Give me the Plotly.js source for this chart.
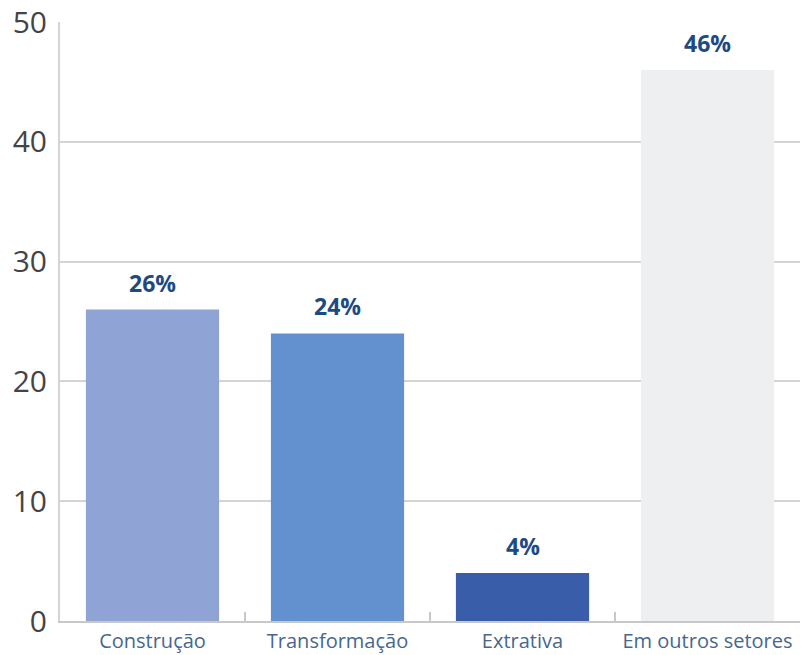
<!DOCTYPE html>
<html><head><meta charset="utf-8">
<script src="https://cdn.plot.ly/plotly-3.0.1.min.js"></script>
<style>html,body{margin:0;padding:0;background:#fff}</style>
</head><body>
<div id="chart" style="width:801px;height:655px"></div>
<script>
const categories = ["Construção", "Transformação", "Extrativa", "Em outros setores"];
const values = [26, 24, 4, 46];
const labels = ["26%", "24%", "4%", "46%"];
const colors = ["#8fa3d5", "#6391cf", "#3a5daa", "#eeeff1"];
const yTicks = [0, 10, 20, 30, 40, 50];

const trace = {
  type: "bar",
  x: categories,
  y: values,
  marker: {color: colors},
  hoverinfo: "skip"
};

const annotations = categories.map((c, i) => ({
  x: c, y: values[i], xref: "x", yref: "y",
  text: "<b>" + labels[i] + "</b>",
  showarrow: false, yanchor: "bottom", yshift: 9,
  font: {family: "Open Sans, Lato, sans-serif", size: 23, color: "#1e4a84"}
}));

const layout = {
  width: 801, height: 655,
  margin: {l: 60, r: 1, t: 22, b: 34},
  paper_bgcolor: "#fff", plot_bgcolor: "#fff",
  bargap: 0.28,
  showlegend: false,
  xaxis: {
    range: [-0.5, 3.5],
    tickson: "boundaries",
    ticks: "inside", ticklen: 9, tickwidth: 1.5, tickcolor: "#c8c8c8",
    showline: true, linecolor: "#c8c8c8", linewidth: 2,
    tickfont: {family: "Open Sans, sans-serif", size: 20, color: "#46678f"},
    ticklabelstandoff: 1,
    fixedrange: true
  },
  yaxis: {
    range: [0, 50],
    tickvals: yTicks,
    showgrid: true, gridcolor: "#d4d4d4", gridwidth: 2,
    zeroline: false,
    showline: true, linecolor: "#d4d4d4", linewidth: 2,
    tickfont: {family: "Open Sans, sans-serif", size: 30, color: "#444444"},
    ticklabelstandoff: 5,
    fixedrange: true
  },
  annotations: annotations
};

Plotly.newPlot("chart", [trace], layout, {displayModeBar: false, staticPlot: true});
</script>
</body></html>
